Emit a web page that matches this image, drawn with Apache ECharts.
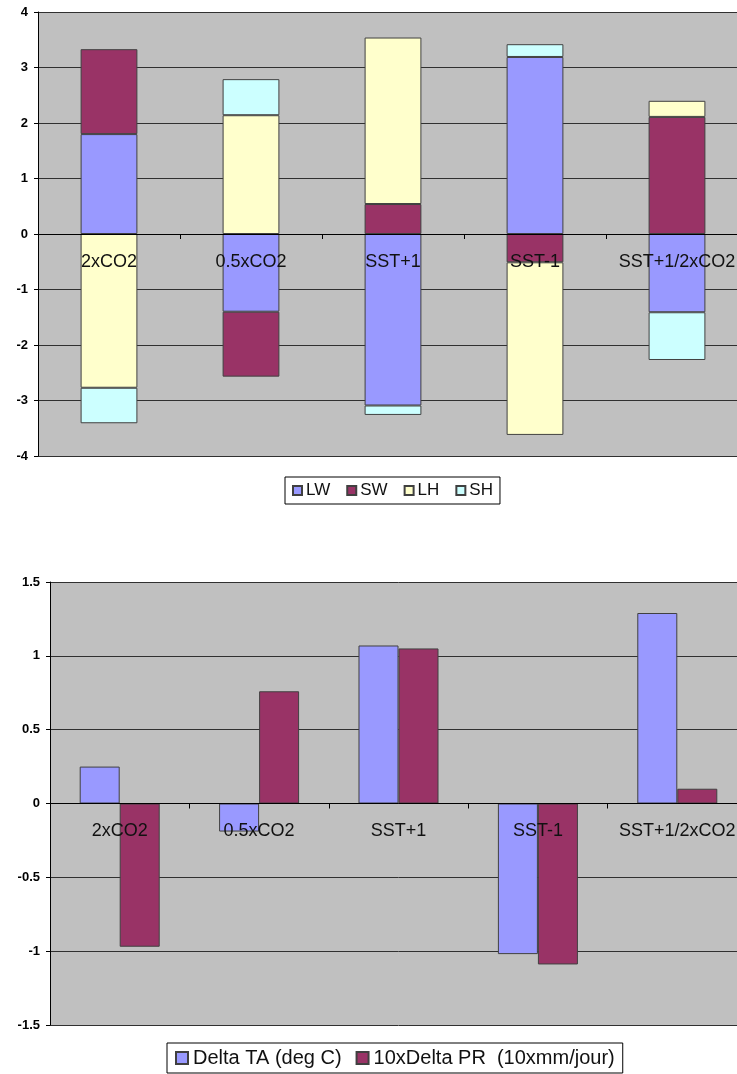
<!DOCTYPE html>
<html>
<head>
<meta charset="utf-8">
<script src="https://cdn.jsdelivr.net/npm/echarts@6/dist/echarts.min.js"></script>
<style>
html,body{margin:0;padding:0;background:#fff;overflow:hidden;width:737px;height:1074px;}
#c{width:760px;height:1074px;}
</style>
</head>
<body>
<div id="c"></div>
<script>
// ---- data ----
var categories = ['2xCO2', '0.5xCO2', 'SST+1', 'SST-1', 'SST+1/2xCO2'];
// top chart (stacked fluxes)
var LW = [1.80, -1.40, -3.09, 3.19, -1.41];
var SW = [1.53, -1.17, 0.54, -0.51, 2.11];
var LH = [-2.77, 2.14, 3.00, -3.11, 0.29];
var SH = [-0.64, 0.65, -0.17, 0.23, -0.86];
var topTicks = [-4, -3, -2, -1, 0, 1, 2, 3, 4];
// bottom chart
var deltaTA = [0.25, -0.19, 1.07, -1.02, 1.29];
var deltaPR = [-0.97, 0.76, 1.05, -1.09, 0.10];
var bottomTicks = [-1.5, -1, -0.5, 0, 0.5, 1, 1.5];

var FONT = 'Liberation Sans, Arial, sans-serif';
var colors = {LW:'#9999FF', SW:'#993366', LH:'#FFFFCC', SH:'#CCFFFF'};
var border = {borderColor:'#404040', borderWidth:1};

// the plot areas run a little past the right edge of the 737px window
var grids = [
  {left:38, top:12, width:710, height:444},
  {left:50, top:582, width:697, height:443}
];

function xAxisDef(idx, ticks){
  var g = grids[idx];
  var lo = ticks[0], hi = ticks[ticks.length-1];
  var off = -g.height * (0 - lo) / (hi - lo);
  return {
    type:'category', gridIndex:idx, data:categories, z:5, position:'bottom', offset:off,
    axisLine:{show:true, onZero:false, lineStyle:{color:'#000', width:1}},
    axisTick:{show:true, length:5, inside:false, lineStyle:{color:'#000'}},
    axisLabel:{color:'#111', fontFamily:FONT, fontSize:18, margin:19, interval:0}
  };
}
function yAxisDef(idx, ticks, step){
  return {
    type:'value', gridIndex:idx, min:ticks[0], max:ticks[ticks.length-1], interval:step,
    axisLine:{show:true, lineStyle:{color:'#000'}},
    axisTick:{show:true, length:4, lineStyle:{color:'#000'}},
    axisLabel:{color:'#000', fontFamily:FONT, fontSize:13, fontWeight:'bold', margin:10},
    splitLine:{show:true, lineStyle:{color:'#303030', width:1}}
  };
}

var chart = echarts.init(document.getElementById('c'), null, {renderer:'canvas', width:760, height:1074});
chart.setOption({
  animation:false,
  grid:[
    Object.assign({show:true, backgroundColor:'#C0C0C0', borderWidth:0}, grids[0]),
    Object.assign({show:true, backgroundColor:'#C0C0C0', borderWidth:0}, grids[1])
  ],
  xAxis:[xAxisDef(0, topTicks), xAxisDef(1, bottomTicks)],
  yAxis:[yAxisDef(0, topTicks, 1), yAxisDef(1, bottomTicks, 0.5)],
  legend:[
    {data:['LW','SW','LH','SH'], left:285, top:477, orient:'horizontal',
     borderColor:'#000', borderWidth:1, backgroundColor:'#fff', padding:[5,7,5,7],
     itemWidth:9, itemHeight:9, itemGap:16, icon:'rect',
     textStyle:{color:'#111', fontFamily:FONT, fontSize:17, padding:[0,0,0,-1]}},
    {data:['Delta TA (deg C)','10xDelta PR  (10xmm/jour)'], left:167, top:1043, orient:'horizontal',
     borderColor:'#000', borderWidth:1, backgroundColor:'#fff', padding:[5,8,5,8],
     itemWidth:12, itemHeight:12, itemGap:14, icon:'rect',
     textStyle:{color:'#111', fontFamily:FONT, fontSize:20, padding:[0,0,0,0]}}
  ],
  series:[
    {name:'LW', type:'bar', stack:'flux', xAxisIndex:0, yAxisIndex:0, barWidth:'40%', data:LW,
     itemStyle:Object.assign({color:colors.LW}, border)},
    {name:'SW', type:'bar', stack:'flux', xAxisIndex:0, yAxisIndex:0, barWidth:'40%', data:SW,
     itemStyle:Object.assign({color:colors.SW}, border)},
    {name:'LH', type:'bar', stack:'flux', xAxisIndex:0, yAxisIndex:0, barWidth:'40%', data:LH,
     itemStyle:Object.assign({color:colors.LH}, border)},
    {name:'SH', type:'bar', stack:'flux', xAxisIndex:0, yAxisIndex:0, barWidth:'40%', data:SH,
     itemStyle:Object.assign({color:colors.SH}, border)},
    {name:'Delta TA (deg C)', type:'bar', xAxisIndex:1, yAxisIndex:1, barWidth:'28.7%', barGap:'0%', data:deltaTA,
     itemStyle:Object.assign({color:colors.LW}, border)},
    {name:'10xDelta PR  (10xmm/jour)', type:'bar', xAxisIndex:1, yAxisIndex:1, barWidth:'28.7%', barGap:'0%', data:deltaPR,
     itemStyle:Object.assign({color:colors.SW}, border)}
  ]
});
</script>
</body>
</html>
